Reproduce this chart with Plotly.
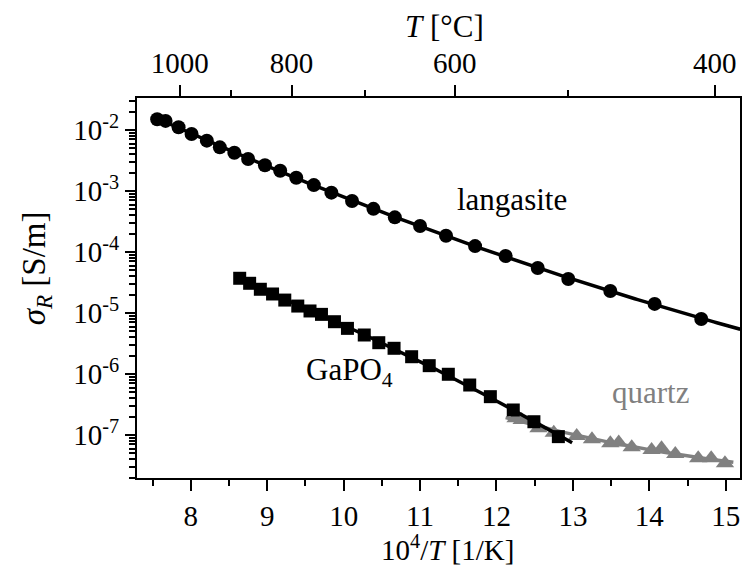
import numpy as np
import plotly.graph_objects as go

# Conductivity data: x = 10^4/T [1/K], sigma_R [S/m]
langasite_x = [7.56, 7.67, 7.84, 8.01, 8.21, 8.38, 8.57, 8.75, 8.97, 9.17, 9.38, 9.61,
               9.84, 10.11, 10.39, 10.67, 11.00, 11.34, 11.72, 12.12, 12.54, 12.94,
               13.49, 14.07, 14.68]
langasite_s = [1.50e-2, 1.41e-2, 1.11e-2, 8.6e-3, 6.7e-3, 5.2e-3, 4.25e-3, 3.35e-3,
               2.64e-3, 2.15e-3, 1.65e-3, 1.25e-3, 9.4e-4, 6.85e-4, 5.1e-4, 3.7e-4,
               2.67e-4, 1.85e-4, 1.25e-4, 8.6e-5, 5.47e-5, 3.61e-5, 2.30e-5, 1.41e-5,
               7.98e-6]

gapo4_x = [8.64, 8.77, 8.91, 9.07, 9.23, 9.40, 9.56, 9.71, 9.88, 10.05, 10.27, 10.46,
           10.66, 10.89, 11.12, 11.37, 11.65, 11.92, 12.22, 12.49, 12.81]
gapo4_s = [3.71e-5, 3.07e-5, 2.45e-5, 2.05e-5, 1.63e-5, 1.30e-5, 1.08e-5, 9.5e-6,
           7.2e-6, 5.6e-6, 4.36e-6, 3.26e-6, 2.64e-6, 1.92e-6, 1.37e-6, 9.9e-7,
           6.6e-7, 4.25e-7, 2.57e-7, 1.65e-7, 9.4e-8]

quartz_x = [12.25, 12.33, 12.55, 12.75, 13.05, 13.25, 13.49, 13.60, 13.77, 14.03,
            14.16, 14.34, 14.64, 14.81, 14.99]
quartz_s = [1.88e-7, 1.76e-7, 1.29e-7, 1.09e-7, 9.6e-8, 8.5e-8, 7.3e-8, 7.5e-8,
            6.3e-8, 5.7e-8, 6.05e-8, 4.9e-8, 4.15e-8, 4.15e-8, 3.43e-8]

# Extent of each Arrhenius fit (10^4/T)
langasite_fit_span = (7.56, 15.19)
gapo4_fit_span = (8.64, 12.99)
quartz_fit_span = (12.12, 15.10)

# Temperature scale on the top axis [°C]
top_major_T = [1000, 800, 600, 400]
top_minor_T = [900, 700, 500]

y_decades = [-7, -6, -5, -4, -3, -2]

X_RANGE = [7.296, 15.187]
Y_RANGE = [-7.705, -1.475]

W, H = 744, 565
ML, MR, MT, MB = 137, 2, 98, 87
PW, PH = W - ML - MR, H - MT - MB

FONT = "Liberation Serif"
BLACK = "#000000"
GREY = "#808080"


def fit_curve(xs, ys, span, deg):
    coef = np.polyfit(xs, np.log10(ys), deg)
    xf = np.linspace(span[0], span[1], 200)
    return xf, 10 ** np.polyval(coef, xf)


def inv_T(t_celsius):
    return 1e4 / (np.asarray(t_celsius, dtype=float) + 273.15)


def px(x, y):
    return (x - ML) / PW, (MT + PH - y) / PH


fig = go.Figure()

# quartz
qx, qy = fit_curve(quartz_x, quartz_s, quartz_fit_span, 2)
fig.add_trace(go.Scatter(x=quartz_x, y=quartz_s, mode="markers",
                         marker=dict(symbol="triangle-up", size=16, color=GREY)))
fig.add_trace(go.Scatter(x=qx, y=qy, mode="lines", line=dict(color=GREY, width=3.5)))

# GaPO4
gx, gy = fit_curve(gapo4_x, gapo4_s, gapo4_fit_span, 2)
fig.add_trace(go.Scatter(x=gapo4_x, y=gapo4_s, mode="markers",
                         marker=dict(symbol="square", size=13, color=BLACK)))
fig.add_trace(go.Scatter(x=gx, y=gy, mode="lines", line=dict(color=BLACK, width=3.5)))

# langasite
lx, ly = fit_curve(langasite_x, langasite_s, langasite_fit_span, 2)
fig.add_trace(go.Scatter(x=lx, y=ly, mode="lines", line=dict(color=BLACK, width=3.5)))
fig.add_trace(go.Scatter(x=langasite_x, y=langasite_s, mode="markers",
                         marker=dict(symbol="circle", size=14, color=BLACK)))

# carrier for the top temperature axis
fig.add_trace(go.Scatter(x=langasite_x, y=langasite_s, xaxis="x2", mode="markers",
                         marker=dict(opacity=0), hoverinfo="skip"))

tick_font = dict(family=FONT, size=29, color=BLACK)

minor_y = [k * 10.0 ** n for n in range(-8, -1) for k in range(2, 10)]

fig.update_layout(
    width=W, height=H,
    margin=dict(l=ML, r=MR, t=MT, b=MB),
    paper_bgcolor="white", plot_bgcolor="white",
    showlegend=False,
    font=dict(family=FONT, color=BLACK),
    xaxis=dict(range=X_RANGE, showgrid=False, zeroline=False,
               showline=True, linecolor=BLACK, linewidth=2, mirror=False,
               tickmode="array", tickvals=list(range(8, 16)),
               ticktext=[str(v) for v in range(8, 16)],
               ticks="outside", ticklen=11, tickwidth=2, tickcolor=BLACK,
               tickfont=tick_font,
               minor=dict(tickmode="array", tickvals=[v + 0.5 for v in range(7, 15)],
                          ticks="outside", ticklen=6, tickwidth=2, tickcolor=BLACK,
                          showgrid=False)),
    xaxis2=dict(range=X_RANGE, overlaying="x", side="top", showgrid=False,
                zeroline=False, showline=True, linecolor=BLACK, linewidth=2,
                tickmode="array", tickvals=list(inv_T(top_major_T)),
                ticktext=[str(t) for t in top_major_T],
                ticks="outside", ticklen=11, tickwidth=2, tickcolor=BLACK,
                tickfont=tick_font,
                minor=dict(tickmode="array", tickvals=list(inv_T(top_minor_T)),
                           ticks="outside", ticklen=6, tickwidth=2, tickcolor=BLACK,
                           showgrid=False)),
    yaxis=dict(type="log", range=Y_RANGE, showgrid=False, zeroline=False,
               showline=True, linecolor=BLACK, linewidth=2, mirror=True,
               tickmode="array", tickvals=[10.0 ** d for d in y_decades],
               ticktext=[f"10<sup>{d}</sup>" for d in y_decades],
               ticks="outside", ticklen=10, tickwidth=2, tickcolor=BLACK,
               tickfont=tick_font,
               minor=dict(tickmode="array", tickvals=minor_y,
                          ticks="outside", ticklen=6, tickwidth=1.5, tickcolor=BLACK,
                          showgrid=False)),
)

ann_font = dict(family=FONT, size=31, color=BLACK)
annotations = []


def label(text, x, y, font, angle=0):
    xp, yp = px(x, y)
    annotations.append(dict(text=text, x=xp, y=yp, xref="paper", yref="paper",
                            xanchor="center", yanchor="middle", showarrow=False,
                            font=font, textangle=angle))


label("<i>T</i> [°C]", 446, 26, ann_font)
label("10<sup>4</sup>/<i>T</i> [1/K]", 449, 548, dict(family=FONT, size=29, color=BLACK))
label("<i>σ</i><sub><i>R</i></sub> [S/m]", 36, 268, dict(family=FONT, size=33, color=BLACK), -90)
label("langasite", 513, 199, ann_font)
label("GaPO<sub>4</sub>", 350, 372, ann_font)
label("quartz", 652, 392, dict(family=FONT, size=31, color=GREY))

fig.update_layout(annotations=annotations)

fig.write_html("out.html")
